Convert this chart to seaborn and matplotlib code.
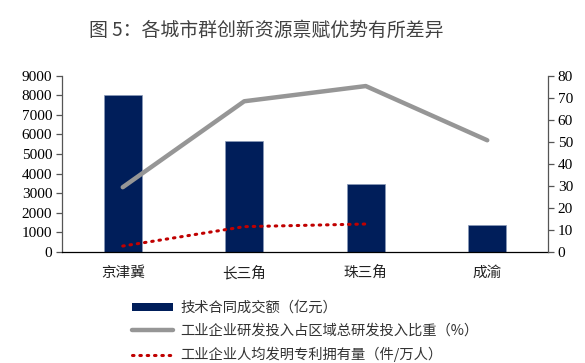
import matplotlib
matplotlib.use("Agg")
import matplotlib.pyplot as plt
import seaborn as sns
import pandas as pd
import numpy as np
from matplotlib.patches import Patch
from matplotlib.lines import Line2D

categories = ["京津冀", "长三角", "珠三角", "成渝"]
contract_value = [8000, 5680, 3450, 1400]           # 技术合同成交额（亿元）
rd_share = [29.4, 68.4, 75.3, 50.7]                 # 工业企业研发投入占区域总研发投入比重（%）
patents_cats = ["京津冀", "长三角", "珠三角"]
patents = [2.7, 11.5, 12.7]                          # 工业企业人均发明专利拥有量（件/万人）

legend_labels = ["技术合同成交额（亿元）",
                 "工业企业研发投入占区域总研发投入比重（%）",
                 "工业企业人均发明专利拥有量（件/万人）"]
title = "图 5：各城市群创新资源禀赋优势有所差异"

sns.set_theme(style="white")
plt.rcParams['font.family'] = ['Noto Sans CJK SC', 'DejaVu Sans']

NAVY = "#001E5A"
GRAY = "#969696"
RED = "#C00000"
DOT = (0, (0.5, 1.9))

fig = plt.figure(figsize=(5.85, 3.63), dpi=100)
ax = fig.add_axes([62/585, 1-252/363, (548-62)/585, (252-75.7)/363])

df = pd.DataFrame({"cat": categories, "val": contract_value})
sns.barplot(data=df, x="cat", y="val", ax=ax, color=NAVY, width=0.31,
            saturation=1, edgecolor="#8a9ab8", linewidth=0.5)
ax.set_xlim(-0.5, 3.5)
ax.set_ylim(0, 9000)
ax.set_xlabel("")
ax.set_ylabel("")

ax2 = ax.twinx()
pos = {c: i for i, c in enumerate(categories)}
sns.lineplot(x=[pos[c] for c in categories], y=rd_share, ax=ax2, color=GRAY, linewidth=3.2)
sns.lineplot(x=[pos[c] for c in patents_cats], y=patents, ax=ax2, color=RED,
             linewidth=2.2, linestyle=DOT, dash_capstyle="round")
ax2.set_ylim(0, 80)
ax2.set_ylabel("")
ax2.set_xlim(-0.5, 3.5)

ax.spines["top"].set_visible(False)
ax2.spines["top"].set_visible(False)
ax.spines["right"].set_visible(False)
ax2.spines["left"].set_visible(False)
ax2.spines["bottom"].set_visible(False)
ax.spines["left"].set_color("#555555")
ax.spines["bottom"].set_color("#000000")
ax2.spines["right"].set_color("#555555")
for a in (ax, ax2):
    for sp in a.spines.values():
        sp.set_linewidth(0.9)

serif = ["Liberation Serif", "DejaVu Serif"]
left_ticks = np.arange(0, 9001, 1000)
right_ticks = np.arange(0, 81, 10)
ax.set_yticks(left_ticks, labels=[str(v) for v in left_ticks],
              fontfamily=serif, fontsize=11, color="#000000")
ax2.set_yticks(right_ticks, labels=[str(v) for v in right_ticks],
               fontfamily=serif, fontsize=11, color="#000000")

ax.set_xticks(range(len(categories)))
ax.set_xticklabels(categories, fontsize=10.5, color="#222222")
ax.set_xticks([0.5, 1.5, 2.5], minor=True)
ax.tick_params(axis="x", which="major", length=0, pad=10)
ax.tick_params(axis="x", which="minor", length=4, width=0.9, color="#000000", direction="out")
ax.tick_params(axis="y", left=True, length=4, width=0.9, color="#555555", direction="out", pad=3)
ax2.tick_params(axis="y", right=True, length=4, width=0.9, color="#555555", direction="out", pad=3)
ax.grid(False)
ax2.grid(False)

fig.text(0.455, 0.917, title, ha="center", va="center", fontsize=13.6, color="#404040")

handles = [Patch(facecolor=NAVY, edgecolor="none"),
           Line2D([], [], color=GRAY, linewidth=3.2),
           Line2D([], [], color=RED, linewidth=2.2, linestyle=DOT, dash_capstyle="round")]
leg = fig.legend(handles, legend_labels, loc="upper left", bbox_to_anchor=(132/585, 1-301/363),
                 frameon=False, fontsize=10.3, handlelength=2.9, handleheight=0.45,
                 labelspacing=0.62, handletextpad=0.45, borderaxespad=0, borderpad=0)
for t in leg.get_texts():
    t.set_color("#333333")

fig.savefig("out.png", dpi=100)
